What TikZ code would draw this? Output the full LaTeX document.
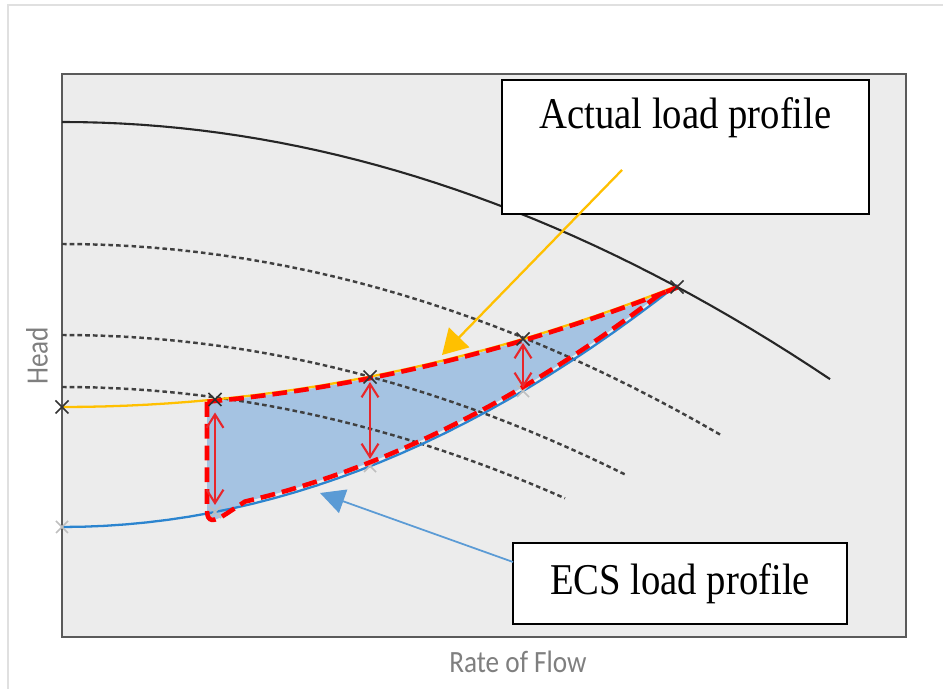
\documentclass[tikz,border=0pt]{standalone}
\usepackage{fontspec}
\setmainfont{Liberation Serif}[FakeStretch=0.88]
\newfontfamily\axisfont{Carlito}[FakeStretch=0.88]
\usepackage{tikz}
\usetikzlibrary{arrows.meta}

\definecolor{plotbg}{HTML}{ECECEC}
\definecolor{framegray}{HTML}{5A5A5A}
\definecolor{loadorange}{HTML}{FFC000}
\definecolor{ecsblue}{HTML}{2B84CF}
\definecolor{arrowblue}{HTML}{5B9BD5}
\definecolor{regionblue}{HTML}{A5C3E2}
\definecolor{axisgray}{HTML}{7F7F7F}
\definecolor{gapred}{HTML}{E8262B}

\begin{document}
\begin{tikzpicture}[x=0.01cm, y=-0.01cm,
    pumpcurve/.style = {black!85, line width=0.6pt},
    syscurve/.style = {black!75, line width=0.7pt, dash pattern=on 1.3pt off 0.9pt},
    loadline/.style = {loadorange, line width=0.65pt},
    ecsline/.style = {ecsblue, line width=0.65pt},
    redline/.style = {red, line width=1.3pt, dash pattern=on 4.2pt off 2pt},
    gaparrow/.style = {gapred, line width=0.6pt,
        {Straight Barb[length=3.8pt,width=4.8pt]}-{Straight Barb[length=3.8pt,width=4.8pt]}},
    opmark/.style = {black!80, line width=0.45pt},
    ecsmark/.style = {black!25, line width=0.45pt},
    loadbox/.style = {draw, fill=white, line width=0.5pt, align=center,
        font=\fontsize{12.5}{15}\selectfont},
    axislabel/.style = {font=\axisfont\fontsize{8.8}{10}\selectfont, text=axisgray}]
    \useasboundingbox (0,0) rectangle (943,689);
    \draw[black!12] (8,689) -- (8,5) -- (943,5);
    \draw[framegray, line width=0.7pt, fill=plotbg] (62,74) rectangle (906,637);

    % operating points
    \coordinate (o1) at (62,407);
    \coordinate (o2) at (215,399.5);
    \coordinate (o3) at (370,377);
    \coordinate (o4) at (523,339);
    \coordinate (o5) at (677,287);
    \coordinate (b1) at (62,527);
    \coordinate (b2) at (215,512);
    \coordinate (b3) at (370,466);
    \coordinate (b4) at (523,391);

    % pump curve
    \draw[pumpcurve] plot[domain=62:830, samples=40] (\x, {122+436*((\x-62)/1000)^2});

    % saving region
    \fill[regionblue] (207,402) -- (207,510) .. controls (207,523) and (214,522) .. (226,514)
        -- plot[domain=245:660, samples=30] (\x, {523-640*((\x-62)/1000)^2}) -- (676,288)
        -- plot[domain=676:207, samples=30] (\x, {408.5-320*((\x-62)/1000)^2}) -- cycle;

    % system curves
    \foreach \h/\e in {244/722, 335/627, 387/565}
        \draw[syscurve] plot[domain=62:\e, samples=30] (\x, {\h+440*((\x-62)/1000)^2});

    \draw[loadline] plot[domain=62:677, samples=30] (\x, {407-320*((\x-62)/1000)^2});
    \draw[ecsline] plot[domain=62:677, samples=30] (\x, {527-640*((\x-62)/1000)^2});
    \foreach \p in {b1,b2,b3,b4}
        \draw[ecsmark] ([shift={(-6,-6)}]\p) -- ([shift={(6,6)}]\p) ([shift={(-6,6)}]\p) -- ([shift={(6,-6)}]\p);

    \draw[redline] (207,402) -- (207,510) .. controls (207,523) and (214,522) .. (226,514)
        -- plot[domain=245:660, samples=30] (\x, {523-640*((\x-62)/1000)^2}) -- (676,288)
        -- plot[domain=676:207, samples=30] (\x, {408.5-320*((\x-62)/1000)^2}) -- cycle;

    \draw[gaparrow] ([shift={(0,13)}]o2) -- ([shift={(0,-7)}]b2);
    \draw[gaparrow] ([shift={(0,5)}]o3) -- ([shift={(0,-7)}]b3);
    \draw[gaparrow] ([shift={(0,4)}]o4) -- ([shift={(0,-3)}]b4);
    \foreach \p in {o1,o2,o3,o4,o5}
        \draw[opmark] ([shift={(-6.5,-6.5)}]\p) -- ([shift={(6.5,6.5)}]\p) ([shift={(-6.5,6.5)}]\p) -- ([shift={(6.5,-6.5)}]\p);

    % labels
    \node[loadbox, minimum width=3.67cm, minimum height=1.34cm] (actual) at (685.5,147) {Actual load profile\\\strut};
    \node[loadbox, minimum width=3.34cm, minimum height=0.81cm] (ecs) at (680,583.5) {ECS load profile};
    \coordinate (actualfrom) at (622,170);
    \coordinate (actualtip) at (442,355);
    \coordinate (ecsfrom) at (513,562);
    \coordinate (ecstip) at (320,493);
    \draw[loadline, -{Triangle[length=7pt,width=8pt]}] (actualfrom) -- (actualtip);
    \draw[arrowblue, line width=0.5pt, -{Triangle[length=7pt,width=7pt]}] (ecsfrom) -- (ecstip);

    \node[axislabel, rotate=90] (headlabel) at (37,356) {Head};
    \node[axislabel] (flowlabel) at (518,662) {Rate of Flow};
\end{tikzpicture}
\end{document}
